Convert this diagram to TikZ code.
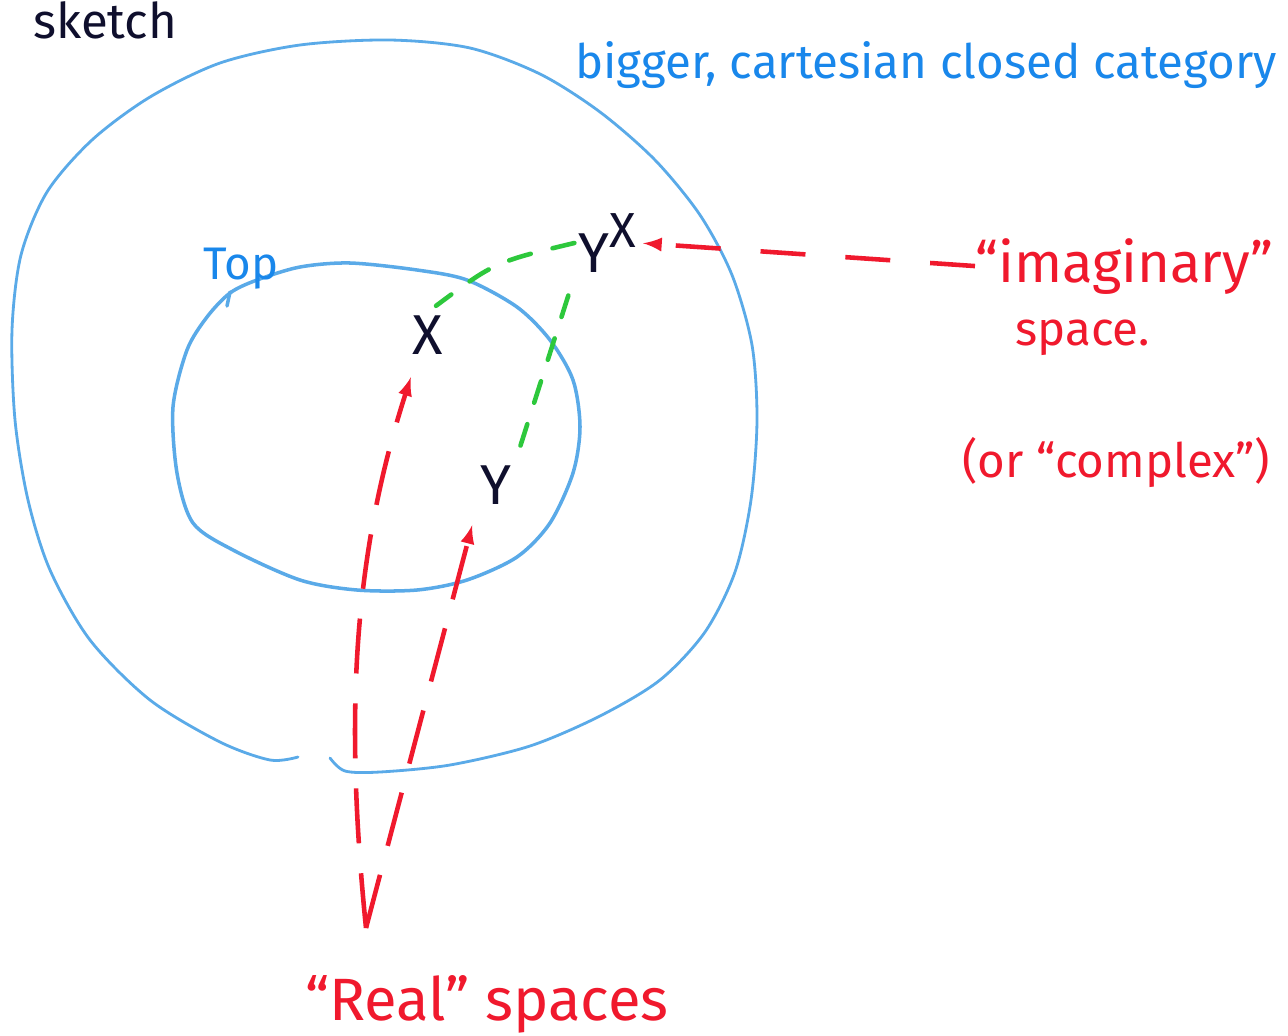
\documentclass[tikz,border=0pt]{standalone}
\usepackage{fontspec}
\setmainfont{Fira Sans}
\usetikzlibrary{positioning,arrows,calc}
\definecolor{penblue}{RGB}{25,135,235}
\definecolor{lineblue}{RGB}{90,170,232}
\definecolor{penred}{RGB}{240,25,45}
\definecolor{pengreen}{RGB}{45,200,60}
\definecolor{penblack}{RGB}{15,15,45}
\newcommand{\fs}[1]{\fontsize{#1}{#1}\selectfont}

\begin{document}
\begin{tikzpicture}[
  x=0.02cm, y=-0.02cm, >=latex,
  ring/.style={draw=lineblue, line width=1.6pt, line cap=round, line join=round},
  note/.style={inner sep=0pt, anchor=base west},
  letter/.style={font=\fs{32}, text=penblack, inner sep=2pt},
  realarrow/.style={->, penred, line width=2.6pt, dash pattern=on 1.1cm off 0.6cm},
  imagarrow/.style={->, penred, line width=2.6pt, dash pattern=on 0.9cm off 0.8cm},
  link/.style={pengreen, line width=2.6pt, line cap=round, dash pattern=on 0.45cm off 0.45cm}
]
\fill[white] (0,0) rectangle (1288,1035);
\useasboundingbox (0,0) rectangle (1288,1035);

\draw[ring] plot[smooth] coordinates {(330,758) (345,771) (380,772) (450,765) (530,746)
  (600,716) (660,680) (705,632) (735,572) (751,500) (757,420) (752,345) (732,275)
  (700,215) (655,160) (600,112) (540,74) (470,48) (390,40) (300,45) (220,63) (150,97)
  (92,140) (47,192) (21,255) (12,330) (15,420) (28,500) (50,570) (90,640) (150,700)
  (220,742) (270,760) (298,757)};
\draw[ring, line width=2pt] plot[smooth cycle] coordinates {(300,267) (350,263) (417,270)
  (467,280) (517,307) (550,340) (573,380) (580,427) (573,473) (550,523) (517,557)
  (467,580) (417,590) (357,590) (300,580) (233,550) (193,523) (177,473) (173,407)
  (187,350) (207,317) (230,293) (257,280)};
\draw[ring, line width=2pt] (230,292) -- (227,306);

\node[note, font=\fs{28}, text=penblack] (sketch) at (33,38) {sketch};
\node[note, font=\fs{27}, text=penblue] (ccc) at (575,78) {bigger, cartesian closed category};
\node[note, font=\fs{26}, text=penblue] (top) at (203,279) {Top};

\node[letter] (xa) at (428,335) {X};
\node[letter] (ya) at (496,485) {Y};
\node[letter] (yx) at (607,243) {Y\raisebox{0.45em}{\fs{28}X}};

\node[note, font=\fs{32}, text=penred] (imag) at (975,282) {“imaginary”};
\node[note, font=\fs{27}, text=penred] (space) at (1015,345) {space.};
\node[note, font=\fs{27}, text=penred] (cplx) at (962,477) {(or “complex”)};
\node[note, font=\fs{34}, text=penred] (real) at (305,1020) {“Real” spaces};
\coordinate (rbase) at (366,928);

\draw[imagarrow, shorten >=2pt] (imag.west) -- (yx.east);
\draw[link, shorten >=0.2cm] (yx.west) .. controls (495,262) .. (xa.north);
\draw[link, shorten <=0.4cm, shorten >=0.3cm] (yx.south west) -- (ya.north east);
\draw[realarrow, shorten >=0.4cm] (rbase) .. controls (345,720) and (352,560) .. ($(xa.south west)+(8,0)$);
\draw[realarrow, shorten >=0.35cm] (rbase) -- (ya.south west);
\end{tikzpicture}
\end{document}
